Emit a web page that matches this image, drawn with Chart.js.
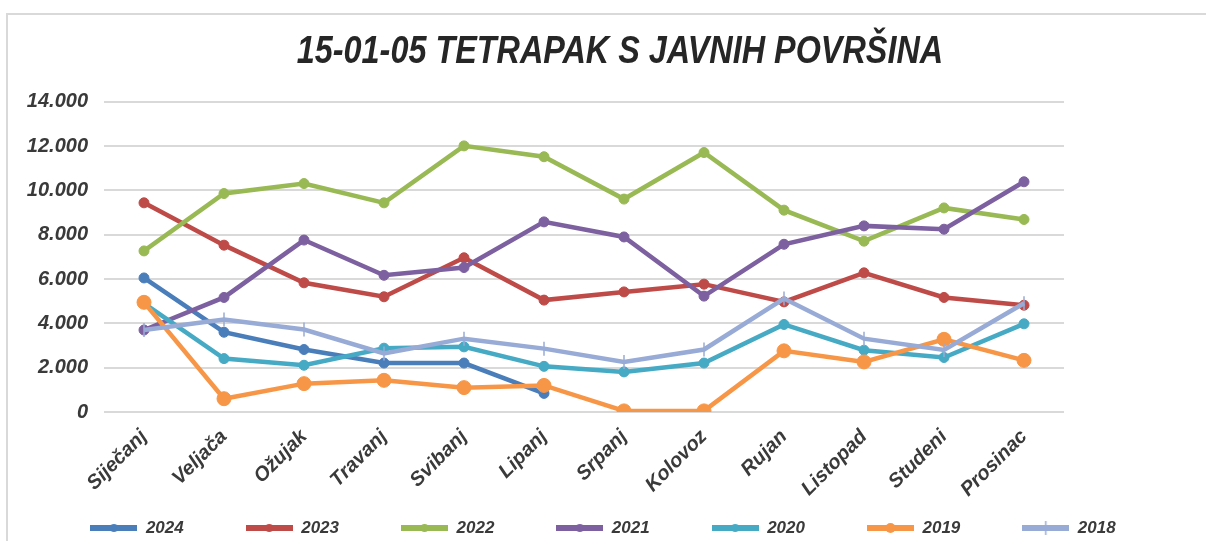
<!DOCTYPE html>
<html>
<head>
<meta charset="utf-8">
<script src="https://cdn.jsdelivr.net/npm/chart.js@4"></script>
<style>
html,body{margin:0;padding:0;background:#fff;}
#wrap{position:relative;width:1206px;height:541px;}
</style>
</head>
<body>
<div id="wrap"><canvas id="c" width="1206" height="541"></canvas></div>
<script>
const titleText = '15-01-05 TETRAPAK S JAVNIH POVRŠINA';
const months = ['Siječanj','Veljača','Ožujak','Travanj','Svibanj','Lipanj','Srpanj','Kolovoz','Rujan','Listopad','Studeni','Prosinac'];
const yTickLabels = ['0','2.000','4.000','6.000','8.000','10.000','12.000','14.000'];
const seriesNames = ['2024','2023','2022','2021','2020','2019','2018'];
const v2024 = [6050, 3600, 2820, 2210, 2210, 840, null, null, null, null, null, null];
const v2023 = [9440, 7530, 5830, 5200, 6960, 5050, 5420, 5770, 4970, 6280, 5170, 4820];
const v2022 = [7270, 9860, 10310, 9440, 12010, 11520, 9610, 11710, 9110, 7710, 9210, 8690];
const v2021 = [3700, 5170, 7760, 6170, 6520, 8580, 7900, 5230, 7570, 8400, 8250, 10390];
const v2020 = [4900, 2410, 2110, 2880, 2940, 2060, 1810, 2210, 3950, 2790, 2460, 3980];
const v2019 = [4950, 600, 1280, 1430, 1100, 1200, 50, 50, 2760, 2260, 3280, 2330];
const v2018 = [3700, 4170, 3720, 2640, 3310, 2860, 2260, 2820, 5120, 3310, 2800, 4910];
const seriesValues = [v2024, v2023, v2022, v2021, v2020, v2019, v2018];
const seriesColors = ['#4a7ebb', '#be4b48', '#98b954', '#7d60a0', '#46aac5', '#f79646', '#98abd6'];

const FONT = "'Liberation Sans', Arial, sans-serif";
const TEXT = '#3a3a3a';

function markerImage(i) {
  const c = document.createElement('canvas');
  c.width = 47; c.height = 16;
  const g = c.getContext('2d');
  g.strokeStyle = seriesColors[i];
  g.lineWidth = 6;
  g.beginPath(); g.moveTo(0, 8); g.lineTo(47, 8); g.stroke();
  g.fillStyle = seriesColors[i];
  if (i === 6) {
    g.lineWidth = 1.5;
    g.beginPath(); g.moveTo(23.5, 1); g.lineTo(23.5, 15); g.stroke();
  } else {
    g.beginPath(); g.arc(23.5, 8, i === 5 ? 5 : 4, 0, Math.PI * 2); g.fill();
  }
  return c;
}
const legendImages = seriesNames.map((_, i) => markerImage(i));

const datasets = seriesNames.map((name, i) => ({
  label: name,
  data: seriesValues[i],
  borderColor: seriesColors[i],
  backgroundColor: seriesColors[i],
  borderWidth: 4.5,
  tension: 0,
  spanGaps: false,
  pointStyle: i === 6 ? 'line' : 'circle',
  rotation: i === 6 ? 90 : 0,
  pointRadius: i === 6 ? 7 : (i === 5 ? 7 : 5),
  pointBorderWidth: i === 6 ? 1.5 : 1,
  pointBackgroundColor: seriesColors[i],
  pointBorderColor: seriesColors[i],
  order: 7 - i
}));

const LEG_PAD = 62;
const LEG_FS = 17;
const framePlugin = {
  id: 'frame',
  beforeDraw(chart) {
    const ctx = chart.ctx;
    ctx.save();
    ctx.strokeStyle = '#d9d9d9';
    ctx.lineWidth = 2;
    ctx.beginPath();
    ctx.moveTo(7, 541); ctx.lineTo(7, 14); ctx.lineTo(1206, 14);
    ctx.stroke();
    ctx.restore();
  },
  afterLayout(chart) {
    const tb = chart.titleBlock;
    if (tb) {
      tb.left += 17; tb.right += 17;
      if (!tb._narrow) {
        const orig = tb.draw.bind(tb);
        tb.draw = function (area) {
          const ctx = this.ctx;
          const cx = (this.left + this.right) / 2;
          ctx.save();
          ctx.translate(cx, 0); ctx.scale(0.83, 1); ctx.translate(-cx, 0);
          orig(area);
          ctx.restore();
        };
        tb._narrow = true;
      }
    }
    const lg = chart.legend;
    if (lg) {
      lg.top = 528 - LEG_PAD - LEG_FS / 2;
      lg.bottom = 541;
      lg.height = lg.bottom - lg.top;
    }
  }
};

new Chart(document.getElementById('c'), {
  type: 'line',
  data: { labels: months, datasets },
  plugins: [framePlugin],
  options: {
    responsive: false,
    animation: false,
    layout: { padding: { left: 0, right: 0, top: 0, bottom: 0 } },
    plugins: {
      tooltip: { enabled: false },
      title: {
        display: true,
        text: titleText,
        color: '#262626',
        font: { family: FONT, size: 39, weight: 'bold', style: 'italic' },
        padding: { top: 29, bottom: 26 }
      },
      legend: {
        position: 'bottom',
        maxHeight: 30,
        labels: {
          usePointStyle: true,
          pointStyleWidth: 47,
          padding: LEG_PAD,
          color: TEXT,
          font: { family: FONT, size: LEG_FS, weight: 'bold', style: 'italic' },
          generateLabels(chart) {
            return chart.data.datasets.map((ds, i) => ({
              text: ds.label,
              fillStyle: seriesColors[i],
              strokeStyle: seriesColors[i],
              lineWidth: 0,
              pointStyle: legendImages[i],
              fontColor: TEXT,
              hidden: false,
              datasetIndex: i
            }));
          }
        }
      }
    },
    scales: {
      x: {
        offset: true,
        grid: { display: false, drawTicks: false },
        border: { display: false },
        ticks: {
          minRotation: 45, maxRotation: 45, padding: 13,
          color: TEXT,
          font: { family: FONT, size: 20, weight: 'bold', style: 'italic' }
        },
        afterFit(s) { s.height = 99; }
      },
      y: {
        min: 0, max: 14000,
        grid: { color: '#d9d9d9', lineWidth: 2, drawTicks: false },
        border: { display: false },
        ticks: {
          stepSize: 2000, padding: 16,
          color: TEXT,
          font: { family: FONT, size: 20, weight: 'bold', style: 'italic' },
          callback(v, i) { return yTickLabels[i]; }
        },
        afterFit(s) { s.width = 104; }
      },
      y2: {
        position: 'right',
        display: true,
        grid: { display: false, drawTicks: false },
        border: { display: false },
        ticks: { display: false },
        afterFit(s) { s.width = 142; }
      }
    }
  }
});
</script>
</body>
</html>
